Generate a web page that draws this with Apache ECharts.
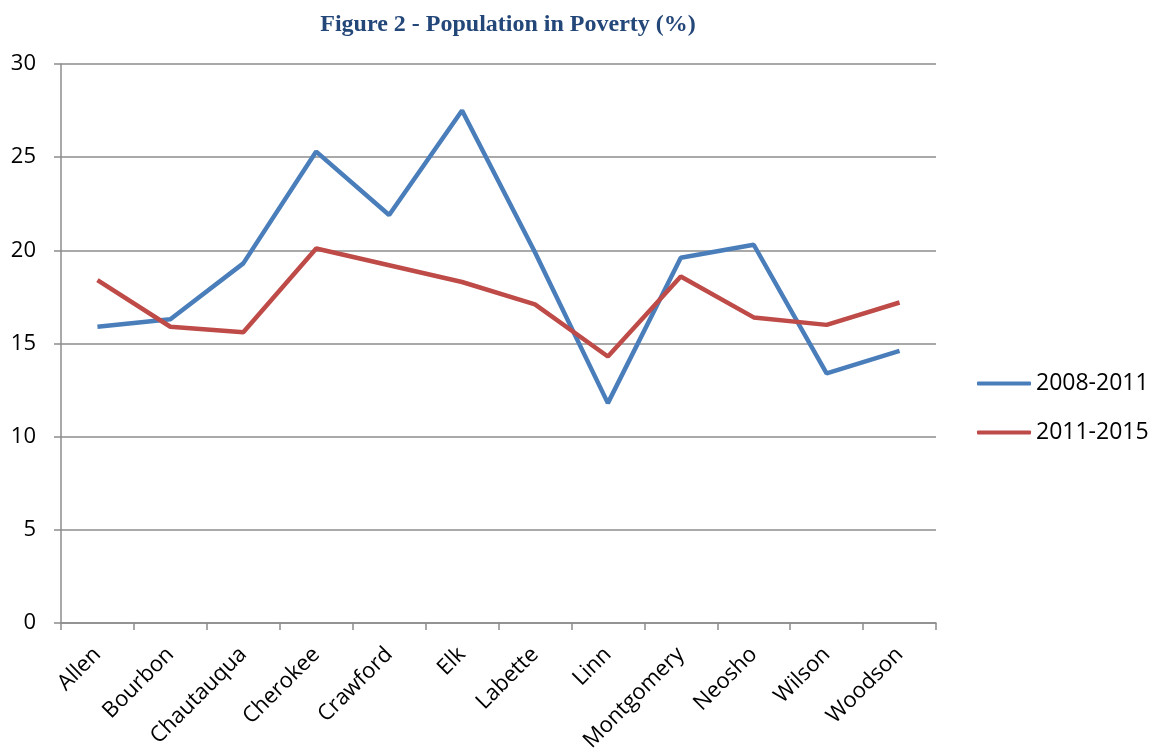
<!DOCTYPE html>
<html>
<head>
<meta charset="utf-8">
<style>
  html, body { margin: 0; padding: 0; background: #ffffff; }
  #chart { width: 1151px; height: 755px; }
</style>
<script src="https://cdn.jsdelivr.net/npm/echarts@6/dist/echarts.min.js"></script>
</head>
<body>
<div id="chart"></div>
<script>
// Counties on the category axis
const counties = ['Allen', 'Bourbon', 'Chautauqua', 'Cherokee', 'Crawford', 'Elk',
                  'Labette', 'Linn', 'Montgomery', 'Neosho', 'Wilson', 'Woodson'];

// Share of population in poverty (%)
const poverty2008_2011 = [15.9, 16.3, 19.3, 25.3, 21.9, 27.5, 19.9, 11.8, 19.6, 20.3, 13.4, 14.6];
const poverty2011_2015 = [18.4, 15.9, 15.6, 20.1, 19.2, 18.3, 17.1, 14.3, 18.6, 16.4, 16.0, 17.2];

const seriesNames = ['2008-2011', '2011-2015'];

const labelFont = '"Open Sans", "Noto Sans", "DejaVu Sans", sans-serif';
const gridGray = '#8c8c8c';

const chart = echarts.init(document.getElementById('chart'));
chart.setOption({
  backgroundColor: '#ffffff',
  animation: false,
  title: {
    text: 'Figure 2 - Population in Poverty (%)',
    left: 503,
    textAlign: 'center',
    top: 8,
    textStyle: {
      fontFamily: '"Liberation Serif", "Times New Roman", serif',
      fontWeight: 'bold',
      fontSize: 24,
      color: '#24477a'
    }
  },
  legend: {
    orient: 'vertical',
    left: 972,
    top: 367,
    itemWidth: 54,
    itemHeight: 4,
    itemGap: 26,
    icon: 'roundRect',
    data: seriesNames,
    textStyle: {
      fontFamily: labelFont,
      fontSize: 23,
      color: '#000000'
    }
  },
  grid: {
    left: 61,
    right: 215,
    top: 64,
    bottom: 132,
    containLabel: false
  },
  xAxis: {
    type: 'category',
    data: counties,
    boundaryGap: true,
    axisLine: { lineStyle: { color: gridGray, width: 1.5 } },
    axisTick: { show: true, alignWithLabel: false, length: 7, lineStyle: { color: gridGray, width: 1.5 } },
    axisLabel: {
      rotate: 45,
      interval: 0,
      margin: 28,
      fontFamily: labelFont,
      fontSize: 22,
      color: '#000000'
    }
  },
  yAxis: {
    type: 'value',
    min: 0,
    max: 30,
    interval: 5,
    axisLine: { show: true, lineStyle: { color: gridGray, width: 1.5 } },
    axisTick: { show: true, length: 7, lineStyle: { color: gridGray, width: 1.5 } },
    splitLine: { show: true, lineStyle: { color: gridGray, width: 1.5 } },
    axisLabel: {
      margin: 25,
      fontFamily: labelFont,
      fontSize: 22,
      color: '#000000'
    }
  },
  series: [
    {
      name: seriesNames[0],
      type: 'line',
      data: poverty2008_2011,
      symbol: 'none',
      lineStyle: { color: '#4a7ebb', width: 4.5 },
      itemStyle: { color: '#4a7ebb' }
    },
    {
      name: seriesNames[1],
      type: 'line',
      data: poverty2011_2015,
      symbol: 'none',
      lineStyle: { color: '#be4b48', width: 4.5 },
      itemStyle: { color: '#be4b48' }
    }
  ]
});
</script>
</body>
</html>
